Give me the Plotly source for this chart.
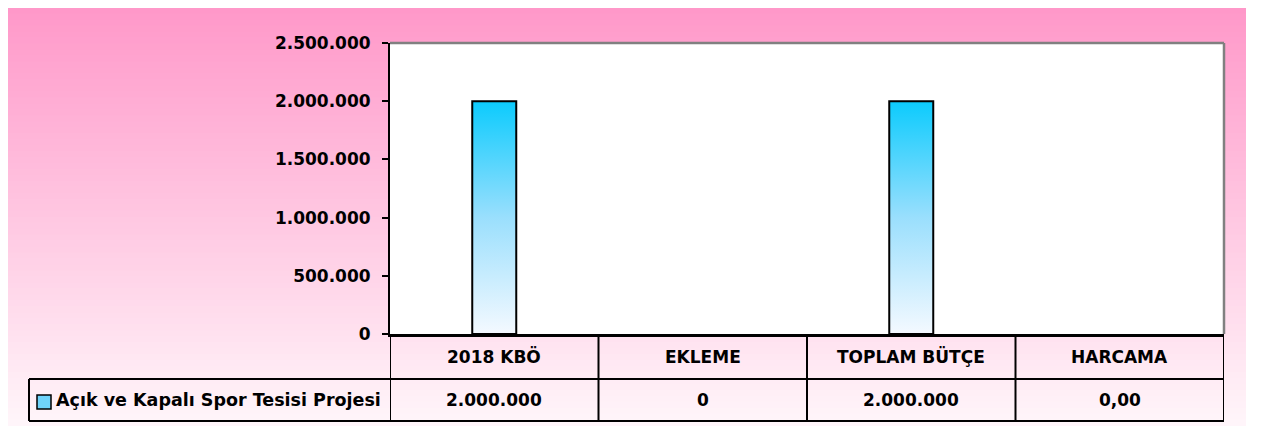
import plotly.graph_objects as go

# ---------------- data ----------------
categories = ["2018 KBÖ", "EKLEME", "TOPLAM BÜTÇE", "HARCAMA"]
series_name = "Açık ve Kapalı Spor Tesisi Projesi"
values = [2000000, 0, 2000000, 0]
value_decimals = [0, 0, 0, 2]
y_tick_vals = [0, 500000, 1000000, 1500000, 2000000, 2500000]

# ---------------- geometry / style ----------------
OFF = 8                      # page body margin of the html page
W, H = 1264 - OFF, 426 - OFF
ML, MT = 390 - OFF, 43 - OFF
MR = W - (1224 - OFF)
MB = H - (334 - OFF)
PW, PH = W - ML - MR, H - MT - MB
BAR_W = 0.211
FONT = dict(family="DejaVu Sans", size=17, color="black", weight="bold")


def px_x(px):  # px given in page (reference) coordinates
    return (px - OFF - ML) / PW


def px_y(py):
    return (H - MB - (py - OFF)) / PH


def fmt_tr(v, dec):
    s = f"{v:,.{dec}f}"
    return s.replace(",", "#").replace(".", ",").replace("#", ".")


shapes = []
# pink vertical gradient background (stripes)
top_c = (255, 150, 200)
bot_c = (255, 246, 250)
N = 70
y_start, y_end = OFF, 426
step = (y_end - y_start) / N
for k in range(N):
    y0 = y_start + k * step
    y1 = y0 + step + 0.6
    t = (y0 + step / 2) / 426
    c = tuple(round(top_c[i] + (bot_c[i] - top_c[i]) * t) for i in range(3))
    shapes.append(dict(type="rect", xref="paper", yref="paper", layer="below",
                       x0=px_x(OFF - 1), x1=px_x(1246), y0=px_y(y1), y1=px_y(y0 - 0.3),
                       fillcolor=f"rgb{c}", line=dict(width=0)))
# white plot area
shapes.append(dict(type="rect", xref="paper", yref="paper", layer="below",
                   x0=0, x1=1, y0=0, y1=1, fillcolor="white", line=dict(width=0)))
# gray top & right border of plot area
shapes.append(dict(type="line", xref="paper", yref="paper", x0=0, x1=1, y0=1, y1=1,
                   line=dict(color="#808080", width=2.5)))
shapes.append(dict(type="line", xref="paper", yref="paper", x0=1, x1=1, y0=0, y1=1,
                   line=dict(color="#808080", width=2.5)))

# data table below the plot
n = len(categories)
tbl_left = px_x(29)
row1_bot = px_y(379)
row2_bot = px_y(421)
for i in range(n + 1):
    shapes.append(dict(type="line", xref="x", yref="paper", x0=i - 0.5, x1=i - 0.5,
                       y0=0, y1=row2_bot, line=dict(color="black", width=2)))
shapes.append(dict(type="line", xref="paper", yref="paper", x0=tbl_left, x1=1,
                   y0=row1_bot, y1=row1_bot, line=dict(color="black", width=2)))
shapes.append(dict(type="line", xref="paper", yref="paper", x0=tbl_left, x1=1,
                   y0=row2_bot, y1=row2_bot, line=dict(color="black", width=2)))
shapes.append(dict(type="line", xref="paper", yref="paper", x0=tbl_left, x1=tbl_left,
                   y0=row1_bot, y1=row2_bot, line=dict(color="black", width=2)))
# legend key
shapes.append(dict(type="rect", xref="paper", yref="paper",
                   x0=px_x(37), x1=px_x(51), y0=px_y(409), y1=px_y(395),
                   fillcolor="#6FD3FA", line=dict(color="black", width=1.5)))

annotations = []
for i, cat in enumerate(categories):
    annotations.append(dict(x=i, y=(0 + row1_bot) / 2, xref="x", yref="paper",
                            text=cat, showarrow=False, font=FONT,
                            xanchor="center", yanchor="middle"))
    annotations.append(dict(x=i, y=(row1_bot + row2_bot) / 2, xref="x", yref="paper",
                            text=fmt_tr(values[i], value_decimals[i]), showarrow=False,
                            font=FONT, xanchor="center", yanchor="middle"))
annotations.append(dict(x=px_x(54), y=(row1_bot + row2_bot) / 2, xref="paper", yref="paper",
                        text=series_name, showarrow=False,
                        font=dict(FONT, size=17.5),
                        xanchor="left", yanchor="middle"))

# bars (gradient filled rectangles on the data axes); zero bars are not drawn
bx, by = [], []
for i, v in enumerate(values):
    if v == 0:
        continue
    bx += [i - BAR_W / 2, i - BAR_W / 2, i + BAR_W / 2, i + BAR_W / 2, i - BAR_W / 2, None]
    by += [0, v, v, 0, 0, None]

fig = go.Figure()
fig.add_trace(go.Scatter(
    x=bx, y=by, mode="lines", fill="toself", name=series_name,
    line=dict(color="black", width=2),
    fillgradient=dict(type="vertical",
                      colorscale=[[0, "#F4F9FF"], [0.5, "#9ADFFD"], [1, "#0CCBFD"]]),
    hoverinfo="skip", showlegend=False,
))

fig.update_layout(
    width=W, height=H, autosize=False,
    margin=dict(l=ML, r=MR, t=MT, b=MB, pad=0),
    paper_bgcolor="white", plot_bgcolor="rgba(0,0,0,0)",
    separators=",.",
    showlegend=False,
    shapes=shapes, annotations=annotations,
    xaxis=dict(range=[-0.5, n - 0.5], showticklabels=False, ticks="", showgrid=False,
               zeroline=False, showline=True, linecolor="black", linewidth=3,
               fixedrange=True),
    yaxis=dict(range=[0, max(y_tick_vals)], tickvals=y_tick_vals, tickformat=",d",
               ticks="outside", ticklen=6, tickwidth=2, tickcolor="black",
               tickfont=FONT, ticklabelstandoff=8,
               showgrid=False, zeroline=False, showline=True, linecolor="black",
               linewidth=2, fixedrange=True),
)

fig.write_html("out.html")
